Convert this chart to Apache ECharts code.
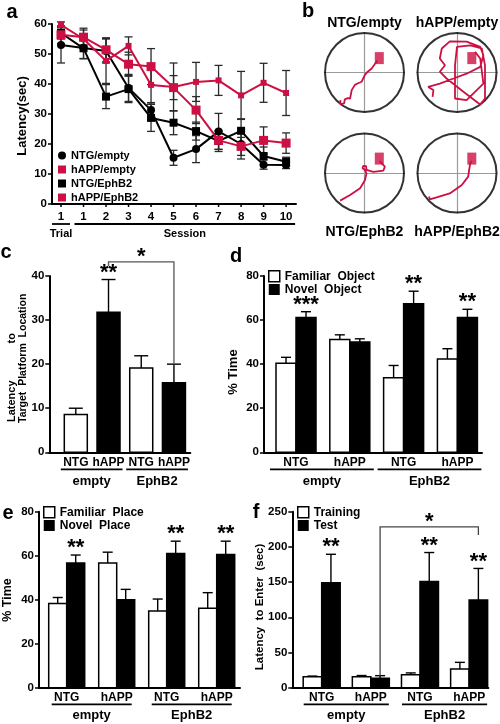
<!DOCTYPE html>
<html><head><meta charset="utf-8">
<script src="https://cdn.jsdelivr.net/npm/echarts@6/dist/echarts.min.js"></script>
<style>html,body{margin:0;padding:0;background:#fff}#c{width:500px;height:724px}</style>
</head><body><div id="c"></div>
<script>
// ---------------- DATA ----------------
// Panel a: water maze latency
const aTicks = ['1','1','2','3','4','5','6','7','8','9','10'];
const aGroups = [{label:'Trial', from:0, to:0}, {label:'Session', from:1, to:10}];
const aSeriesNames = ['NTG/empty','hAPP/empty','NTG/EphB2','hAPP/EphB2'];
const ntgEmpty     = [53, 52, 51, 38.7, 31.3, 15.4, 18.3, 24.2, 20, 13.1, 13];
const ntgEmptyErr  = [6, 3.5, 4, 4.5, 2.5, 2.5, 4.5, 6, 5, 1.5, 1.2];
const happEmpty    = [59.7, 55, 47.7, 52.7, 39.7, 39, 40.7, 41.2, 36.2, 40.4, 37];
const happEmptyErr = [1, 3, 7.5, 3, 6, 8, 6.5, 5, 8, 6.5, 7.5];
const ntgEphB2     = [57, 51.9, 35.8, 38.3, 28.7, 27.1, 24.3, 21, 24.4, 16, 14.1];
const ntgEphB2Err  = [2, 3.5, 4, 4.5, 4.5, 4, 3, 3.5, 4, 3, 1.5];
const happEphB2    = [56.4, 55.6, 51.4, 46.6, 45.8, 38.8, 31.3, 21.2, 19.2, 21.2, 20.3];
const happEphB2Err = [3, 3, 4, 4, 6, 4, 4.5, 3, 3, 4.5, 3.4];

// Panel b: swim paths (pool radius = 1)
const bTitles = ['NTG/empty','hAPP/empty','NTG/EphB2','hAPP/EphB2'];
const platform = [[0.37, 0.36]];
const pathNtgEmpty = [[0.32,0.3],[0.25,0.2],[0.18,0.1],[0.08,0.02],[0.01,-0.06],[-0.07,-0.23],[-0.16,-0.27],[-0.24,-0.31],[-0.32,-0.44],[-0.36,-0.65],[-0.42,-0.64],[-0.49,-0.67],[-0.51,-0.77],[-0.61,-0.79],[-0.6,-0.69]];
const pathHappEmpty = [[-0.61,-0.61],[-0.59,-0.44],[-0.72,-0.36],[-0.43,-0.28],[-0.09,-0.15],[0.24,-0.03],[0.58,0.14],[0.66,0.43],[0.58,0.64],[0.24,0.77],[-0.18,0.78],[-0.38,0.6],[-0.43,0.35],[-0.3,0.18],[-0.43,0.02],[-0.26,-0.15],[0.16,-0.48],[0.58,-0.8],[0.7,-0.65],[0.7,0.18],[0.62,0.6],[0.33,0.68],[0,0.64],[-0.05,0.18],[-0.05,-0.65],[0.24,-0.69],[0.66,-0.28],[0.58,0.35],[0.45,0.52]];
const pathNtgEphB2 = [[-0.61,-0.69],[-0.36,-0.55],[-0.11,-0.38],[0.01,-0.18],[0.05,-0.01],[0.01,0.08],[-0.05,0.12],[-0.03,0.18],[0.04,0.17],[0.05,0.08],[0.22,0.03],[0.47,0.06],[0.51,0.16],[0.43,0.24],[0.38,0.3]];
const pathHappEphB2 = [[0.37,0.3],[0.33,0.24],[0.3,0.05],[0.28,-0.09],[0.12,-0.3],[-0.18,-0.51],[-0.51,-0.61],[-0.68,-0.66],[-0.7,-0.59]];

// Shared bar-panel categories
const conds = ['NTG','hAPP','NTG','hAPP'];
const vectors = ['empty','EphB2'];

// Panel c: probe trial latency
const cVals = [8.6, 31.8, 19.1, 15.8];
const cErr  = [1.4, 7.4, 2.8, 4.2];
const cSig  = ['', '**', '', ''];
const cBracket = {from:1, to:3, level:43.2, fromEnd:42.2, toEnd:20, label:'*'};

// Panel d: novel object
const dFamiliar = [40.4, 51.2, 33.8, 42.3];
const dFamErr   = [2.7, 2.1, 5.6, 4.7];
const dNovel    = [61.2, 50, 67.4, 61.2];
const dNovErr   = [2.6, 1.5, 5.7, 3.7];
const dSig      = ['***', '', '**', '**'];

// Panel e: novel place
const eFamiliar = [38.3, 56.7, 34.9, 36.1];
const eFamErr   = [2.7, 4.9, 5.4, 7.1];
const eNovel    = [56.7, 40, 61, 60.5];
const eNovErr   = [3.6, 4.7, 5.6, 6.1];
const eSig      = ['**', '', '**', '**'];

// Panel f: passive avoidance
const fTraining = [15.5, 15.5, 18.5, 26.5];
const fTrainErr = [1, 1.8, 2.5, 9.5];
const fTest     = [149, 13.3, 151, 124.4];
const fTestErr  = [40.5, 3.8, 41, 45];
const fSig      = ['**', '', '**', '**'];
const fBracket  = {from:1, to:3, level:228.5, fromEnd:17, toEnd:217, label:'*'};

// ---------------- CHART ----------------
const RED = '#cc1043';
const FF = '"Liberation Sans", Arial, Helvetica, sans-serif';
const f = (s) => 'bold ' + s + 'px ' + FF;
const chart = echarts.init(document.getElementById('c'), null, {renderer:'canvas'});

const grids = [
  {left:52, top:24, width:244, height:180},              // 0 a
  {left:324.5, top:32.5, width:80, height:80},           // 1 pool TL
  {left:417, top:32.5, width:80, height:80},             // 2 pool TR
  {left:324.5, top:133, width:80, height:80},            // 3 pool BL
  {left:417, top:133, width:80, height:80},              // 4 pool BR
  {left:49.3, top:276, width:141, height:176.3},         // 5 c
  {left:264, top:276, width:218, height:176.3},          // 6 d
  {left:39, top:511.7, width:201, height:176},           // 7 e
  {left:292.3, top:511.7, width:196, height:176}         // 8 f
].map(g => Object.assign({outerBoundsMode:'none', containLabel:false}, g));

const axisLineBlack = {show:true, onZero:false, lineStyle:{color:'#000', width:2}};
function valueY(gi, max, interval) {
  return {gridIndex:gi, type:'value', min:0, max:max, interval:interval,
    axisLine:axisLineBlack, axisTick:{show:true, length:4, lineStyle:{color:'#000', width:1.5}},
    axisLabel:{show:true, margin:5, color:'#000', fontFamily:FF, fontWeight:'bold', fontSize:11.5},
    splitLine:{show:false}};
}
function plainX(gi, min, max) {
  return {gridIndex:gi, type:'value', min:min, max:max, axisLine:axisLineBlack,
    axisTick:{show:false}, axisLabel:{show:false}, splitLine:{show:false}};
}
function poolAxis(gi) {
  return {gridIndex:gi, type:'value', min:-1, max:1,
    axisLine:{show:true, onZero:true, lineStyle:{color:'#9a9a9a', width:1.2}},
    axisTick:{show:false}, axisLabel:{show:false}, splitLine:{show:false}};
}

const xAxes = [
  plainX(0, -0.4, 10.44),
  poolAxis(1), poolAxis(2), poolAxis(3), poolAxis(4),
  plainX(5, -0.81, 3.5),
  plainX(6, -0.595, 3.457),
  plainX(7, -0.554, 3.466),
  plainX(8, -0.598, 3.39)
];
const yAxes = [
  valueY(0, 60, 10),
  poolAxis(1), poolAxis(2), poolAxis(3), poolAxis(4),
  valueY(5, 40, 10),
  valueY(6, 80, 20),
  valueY(7, 80, 20),
  valueY(8, 250, 50)
];

const series = [];

// ---- panel a ----
function errSeries(vals, errs) {
  return {type:'custom', xAxisIndex:0, yAxisIndex:0, silent:true, z:2,
    data: vals.map((v,i)=>[i, v, errs[i]]),
    renderItem(p, api) {
      const i = api.value(0), v = api.value(1), e = api.value(2);
      const t = api.coord([i, v+e]), b = api.coord([i, v-e]);
      const st = {stroke:'#2a2a2a', lineWidth:1.3};
      return {type:'group', children:[
        {type:'line', shape:{x1:t[0], y1:t[1], x2:b[0], y2:b[1]}, style:st},
        {type:'line', shape:{x1:t[0]-4, y1:t[1], x2:t[0]+4, y2:t[1]}, style:st},
        {type:'line', shape:{x1:b[0]-4, y1:b[1], x2:b[0]+4, y2:b[1]}, style:st}
      ]};
    }};
}
series.push(errSeries(ntgEmpty, ntgEmptyErr), errSeries(ntgEphB2, ntgEphB2Err),
            errSeries(happEmpty, happEmptyErr), errSeries(happEphB2, happEphB2Err));
function lineSer(name, vals, color, symbol, size) {
  return {type:'line', name, xAxisIndex:0, yAxisIndex:0, z:3,
    data: vals.map((v,i)=>[i,v]), symbol, symbolSize:size, showSymbol:true,
    lineStyle:{color, width:2}, itemStyle:{color, borderWidth:0}, emphasis:{disabled:true}};
}
series.push(lineSer('NTG/empty', ntgEmpty, '#000', 'circle', 8));
series.push(lineSer('NTG/EphB2', ntgEphB2, '#000', 'rect', 8));
series.push(lineSer('hAPP/empty', happEmpty, RED, 'rect', 6));
series.push(lineSer('hAPP/EphB2', happEphB2, RED, 'rect', 9));

// x decorations (labels, ticks, group underline and names)
function xDeco(gi, labels, groups, o) {
  const lblFont = f(o.labelSize);
  series.push({type:'custom', xAxisIndex:gi, yAxisIndex:gi, silent:true, z:5,
    data: labels.map((l,i)=>[i,0]),
    renderItem(p, api) {
      const pt = api.coord([api.value(0), 0]);
      const ch = [{type:'text', x:pt[0], y:pt[1]+o.labelDy,
        style:{text:labels[p.dataIndex], font:lblFont, fill:'#000', textAlign:'center', textVerticalAlign:'middle'}}];
      if (o.tick) ch.push({type:'line', shape:{x1:pt[0], y1:pt[1], x2:pt[0], y2:pt[1]+o.tick}, style:{stroke:'#000', lineWidth:1.5}});
      return {type:'group', children:ch};
    }});
  series.push({type:'custom', xAxisIndex:gi, yAxisIndex:gi, silent:true, z:5,
    data: groups.map(g=>[g.from, g.to]),
    renderItem(p, api) {
      const a = api.coord([api.value(0), 0]), b = api.coord([api.value(1), 0]);
      const x1 = a[0]-o.padL, x2 = b[0]+o.padR;
      return {type:'group', children:[
        {type:'line', shape:{x1, y1:a[1]+o.lineDy, x2, y2:a[1]+o.lineDy}, style:{stroke:'#000', lineWidth:1.8}},
        {type:'text', x:(x1+x2)/2, y:a[1]+o.groupDy,
          style:{text:groups[p.dataIndex].label, font:f(o.groupSize), fill:'#000', textAlign:'center', textVerticalAlign:'middle'}}
      ]};
    }});
}
xDeco(0, aTicks, aGroups, {labelSize:11.5, labelDy:13, tick:3, lineDy:20, groupDy:30, groupSize:11, padL:9, padR:9});
const vGroups = vectors.map((v,k)=>({label:v, from:2*k, to:2*k+1}));
xDeco(5, conds, vGroups, {labelSize:12, labelDy:10, lineDy:17, groupDy:29, groupSize:13, padL:15, padR:14});
xDeco(6, conds, vGroups, {labelSize:12, labelDy:10, lineDy:17, groupDy:29, groupSize:13, padL:26, padR:24});
xDeco(7, conds, vGroups, {labelSize:12, labelDy:10, lineDy:16.6, groupDy:27.5, groupSize:13, padL:15, padR:15});
xDeco(8, conds, vGroups, {labelSize:12, labelDy:10, lineDy:16.6, groupDy:27.5, groupSize:13, padL:18, padR:18});

// ---- bars ----
function barSer(name, gi, vals, errs, fillFn, offset, width, cap, sigs) {
  series.push({type:'custom', name, xAxisIndex:gi, yAxisIndex:gi, silent:true, z:3,
    itemStyle:{color:fillFn(0), borderColor:'#000', borderWidth:1.5},
    data: vals.map((v,i)=>[i, v, errs[i]]),
    renderItem(p, api) {
      const i = api.value(0), v = api.value(1), e = api.value(2);
      const b = api.coord([i, 0]), t = api.coord([i, v]), et = api.coord([i, v+e]);
      const cx = b[0] + offset;
      const fill = fillFn(p.dataIndex);
      const ch = [
        {type:'line', shape:{x1:cx, y1:t[1], x2:cx, y2:et[1]}, style:{stroke:'#000', lineWidth:1.4}},
        {type:'line', shape:{x1:cx-cap, y1:et[1], x2:cx+cap, y2:et[1]}, style:{stroke:'#000', lineWidth:1.4}},
        {type:'rect', shape:{x:cx-width/2, y:t[1], width:width, height:b[1]-t[1]}, style:{fill, stroke:'#000', lineWidth:1.5}}
      ];
      if (sigs && sigs[p.dataIndex]) ch.push({type:'text', x:cx, y:et[1]-7,
        style:{text:sigs[p.dataIndex], font:f(22), fill:'#000', textAlign:'center', textVerticalAlign:'middle'}});
      return {type:'group', children:ch};
    }});
}
const W = () => '#fff', K = () => '#000';
barSer('c', 5, cVals, cErr, i => (i%2 ? '#000' : '#fff'), 0, 23, 7, cSig);
barSer('Familiar Object', 6, dFamiliar, dFamErr, W, -10, 20, 5, null);
barSer('Novel Object', 6, dNovel, dNovErr, K, 10, 20, 5, dSig);
barSer('Familiar Place', 7, eFamiliar, eFamErr, W, -9, 18, 5, null);
barSer('Novel Place', 7, eNovel, eNovErr, K, 9, 18, 5, eSig);
barSer('Training', 8, fTraining, fTrainErr, W, -9.25, 18.5, 5, null);
barSer('Test', 8, fTest, fTestErr, K, 9.25, 18.5, 5, fSig);

function bracket(gi, br, offset, color) {
  series.push({type:'custom', xAxisIndex:gi, yAxisIndex:gi, silent:true, z:4,
    data:[[br.from, br.level, br.to]],
    renderItem(p, api) {
      const a = api.coord([br.from, br.level]), b = api.coord([br.to, br.level]);
      const ae = api.coord([br.from, br.fromEnd]), be = api.coord([br.to, br.toEnd]);
      const xa = a[0]+offset, xb = b[0]+offset;
      return {type:'group', children:[
        {type:'polyline', shape:{points:[[xa, ae[1]], [xa, a[1]], [xb, b[1]], [xb, be[1]]]}, style:{stroke:color, lineWidth:1.3, fill:null}},
        {type:'text', x:(xa+xb)/2, y:a[1]-5, style:{text:br.label, font:f(22), fill:'#000', textAlign:'center', textVerticalAlign:'middle'}}
      ]};
    }});
}
bracket(5, cBracket, 0, '#555');
bracket(8, fBracket, 9.25, '#444');

// ---- pools ----
const paths = [pathNtgEmpty, pathHappEmpty, pathNtgEphB2, pathHappEphB2];
paths.forEach((pth, k) => {
  const gi = k+1;
  series.push({type:'scatter', xAxisIndex:gi, yAxisIndex:gi, silent:true, z:2, data:[[0,0]],
    symbol:'circle', symbolSize:79, itemStyle:{color:'rgba(0,0,0,0)', borderColor:'#000', borderWidth:2}});
  series.push({type:'line', xAxisIndex:gi, yAxisIndex:gi, silent:true, z:3, data:pth,
    showSymbol:false, symbol:'none', lineStyle:{color:RED, width:1.8}});
  series.push({type:'scatter', xAxisIndex:gi, yAxisIndex:gi, silent:true, z:4, data:platform,
    symbol:'rect', symbolSize:[9,12], itemStyle:{color:RED}});
});

// ---- legends ----
const legTxt = (s) => ({color:'#000', fontFamily:FF, fontWeight:'bold', fontSize:s});
const wide = (n) => n.replace(' ', '  ');
const legends = [
  {left:58, top:150, orient:'vertical', itemGap:3, itemWidth:8, itemHeight:8, textStyle:legTxt(11),
    data:[{name:'NTG/empty', icon:'circle', itemStyle:{color:'#000'}},
          {name:'hAPP/empty', icon:'rect', itemStyle:{color:RED}},
          {name:'NTG/EphB2', icon:'rect', itemStyle:{color:'#000'}},
          {name:'hAPP/EphB2', icon:'rect', itemStyle:{color:RED}}]},
  {left:268, top:270, orient:'vertical', itemGap:1, itemWidth:11, itemHeight:11, textStyle:legTxt(12), formatter:wide,
    data:[{name:'Familiar Object', icon:'rect', itemStyle:{color:'#fff', borderColor:'#000', borderWidth:1.5}},
          {name:'Novel Object', icon:'rect', itemStyle:{color:'#000'}}]},
  {left:43, top:506, orient:'vertical', itemGap:1, itemWidth:11, itemHeight:11, textStyle:legTxt(12), formatter:wide,
    data:[{name:'Familiar Place', icon:'rect', itemStyle:{color:'#fff', borderColor:'#000', borderWidth:1.5}},
          {name:'Novel Place', icon:'rect', itemStyle:{color:'#000'}}]},
  {left:297, top:506, orient:'vertical', itemGap:1, itemWidth:11, itemHeight:11, textStyle:legTxt(12),
    data:[{name:'Training', icon:'rect', itemStyle:{color:'#fff', borderColor:'#000', borderWidth:1.5}},
          {name:'Test', icon:'rect', itemStyle:{color:'#000'}}]}
].map(l => Object.assign({selectedMode:false, padding:0, itemStyle:{borderWidth:0}}, l));

// ---- free text ----
const txt = (x, y, s, size, rot, align) => ({type:'text', x, y, rotation:rot||0, silent:true,
  style:{text:s, font:f(size), fill:'#000', textAlign:align||'center', textVerticalAlign:'middle'}});
const R = Math.PI/2;
const graphics = [
  txt(12, 12, 'a', 20), txt(308, 11, 'b', 20), txt(6, 252, 'c', 20),
  txt(236, 256, 'd', 20), txt(8, 513, 'e', 20), txt(256, 512, 'f', 20),
  txt(364.5, 23, bTitles[0], 14), txt(457, 23, bTitles[1], 14),
  txt(364.5, 232, bTitles[2], 14), txt(457, 232, bTitles[3], 14),
  txt(22, 116, 'Latency(sec)', 13, R),
  txt(12, 422, 'Latency', 11, R, 'left'), txt(12, 333, 'to', 11, R, 'right'),
  txt(23, 423, 'Target  Platform  Location', 10.5, R, 'left'),
  txt(233, 372, '% Time', 13, R),
  txt(8, 600, '% Time', 12.5, R),
  txt(260, 607, 'Latency  to Enter  (sec)', 11.5, R)
];

chart.setOption({
  animation:false,
  backgroundColor:'#fff',
  textStyle:{fontFamily:FF},
  grid:grids, xAxis:xAxes, yAxis:yAxes,
  legend:legends,
  series:series,
  graphic:{elements:graphics}
});
</script>
</body></html>
